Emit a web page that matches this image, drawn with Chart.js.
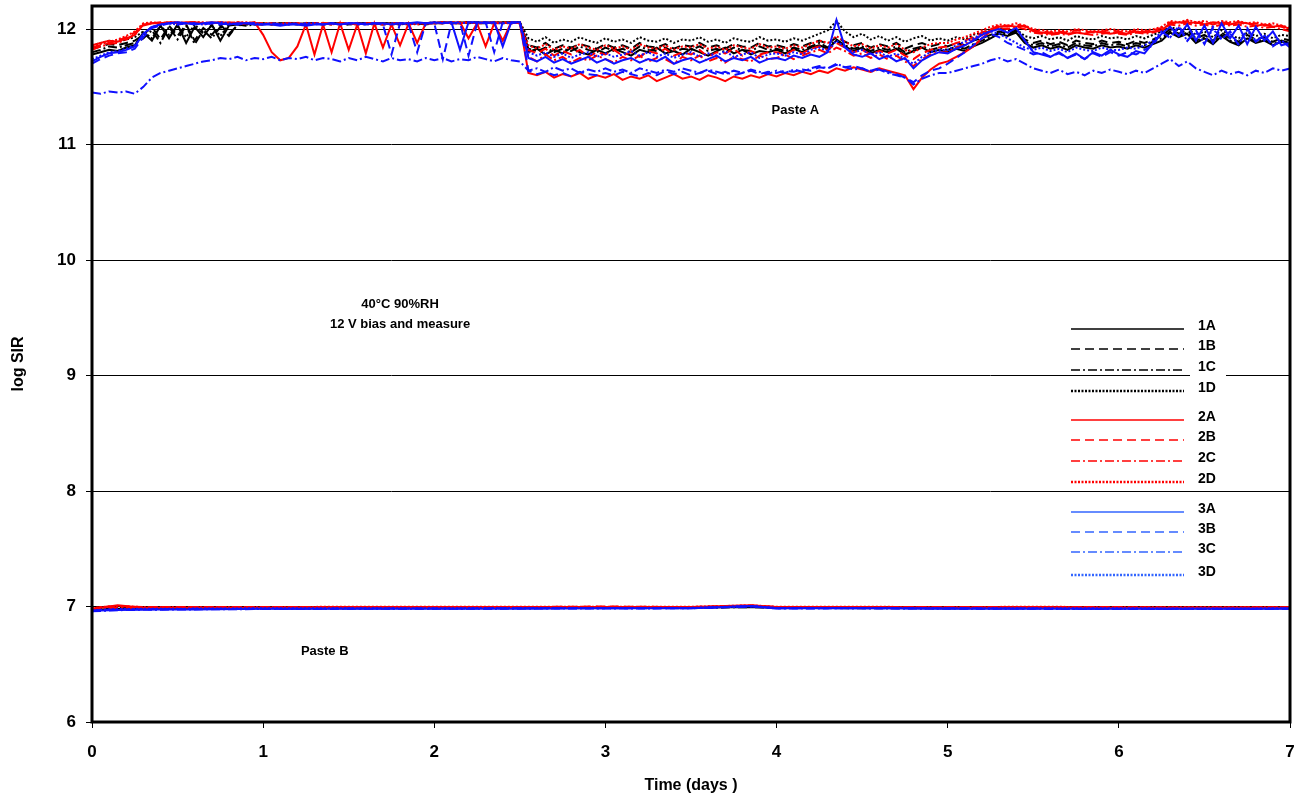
<!DOCTYPE html>
<html lang="en">
<head>
    <meta charset="UTF-8">
    <title>log SIR vs time</title>
    <script src="https://cdn.jsdelivr.net/npm/chart.js"></script>
    <style>
        body { margin: 0; background: #fff; }
        #sirChart { display: block; }
    </style>
</head>
<body>
<canvas id="sirChart" width="1304" height="801"></canvas>

<script>
    // sample times (days) for the Paste A curves, one row per day
    const days = [
        0.00, 0.05, 0.10, 0.15, 0.20, 0.25, 0.30, 0.35, 0.40, 0.45, 0.50, 0.55, 0.60, 0.65, 0.70, 0.75, 0.80, 0.85, 0.90, 0.95,
        1.00, 1.05, 1.10, 1.15, 1.20, 1.25, 1.30, 1.35, 1.40, 1.45, 1.50, 1.55, 1.60, 1.65, 1.70, 1.75, 1.80, 1.85, 1.90, 1.95,
        2.00, 2.05, 2.10, 2.15, 2.20, 2.25, 2.30, 2.35, 2.40, 2.45, 2.50, 2.55, 2.60, 2.65, 2.70, 2.75, 2.80, 2.85, 2.90, 2.95,
        3.00, 3.05, 3.10, 3.15, 3.20, 3.25, 3.30, 3.35, 3.40, 3.45, 3.50, 3.55, 3.60, 3.65, 3.70, 3.75, 3.80, 3.85, 3.90, 3.95,
        4.00, 4.05, 4.10, 4.15, 4.20, 4.25, 4.30, 4.35, 4.40, 4.45, 4.50, 4.55, 4.60, 4.65, 4.70, 4.75, 4.80, 4.85, 4.90, 4.95,
        5.00, 5.05, 5.10, 5.15, 5.20, 5.25, 5.30, 5.35, 5.40, 5.45, 5.50, 5.55, 5.60, 5.65, 5.70, 5.75, 5.80, 5.85, 5.90, 5.95,
        6.00, 6.05, 6.10, 6.15, 6.20, 6.25, 6.30, 6.35, 6.40, 6.45, 6.50, 6.55, 6.60, 6.65, 6.70, 6.75, 6.80, 6.85, 6.90, 6.95,
        7.00];

    // Paste A, log SIR
    const a1A = [
        11.78, 11.80, 11.82, 11.81, 11.84, 11.86, 11.97, 11.90, 12.03, 11.92, 12.04, 11.88, 12.02, 11.93, 12.04, 11.90, 12.03, 12.04, 12.05, 12.04,
        12.05, 12.04, 12.05, 12.05, 12.04, 12.05, 12.05, 12.04, 12.05, 12.05, 12.04, 12.05, 12.05, 12.04, 12.05, 12.05, 12.05, 12.04, 12.05, 12.05,
        12.05, 12.06, 12.05, 12.05, 12.06, 12.05, 12.06, 12.05, 12.06, 12.06, 12.06, 11.80, 11.83, 11.78, 11.82, 11.79, 11.84, 11.80, 11.78, 11.82,
        11.79, 11.83, 11.80, 11.77, 11.82, 11.80, 11.84, 11.79, 11.81, 11.78, 11.83, 11.80, 11.77, 11.81, 11.84, 11.79, 11.82, 11.78, 11.81, 11.80,
        11.82, 11.79, 11.83, 11.80, 11.84, 11.86, 11.83, 11.90, 11.85, 11.81, 11.84, 11.79, 11.82, 11.80, 11.83, 11.78, 11.81, 11.84, 11.80, 11.82,
        11.80, 11.83, 11.81, 11.85, 11.88, 11.92, 11.96, 11.94, 11.97, 11.88, 11.84, 11.86, 11.83, 11.85, 11.82, 11.86, 11.84, 11.83, 11.86, 11.84,
        11.85, 11.83, 11.86, 11.84, 11.87, 11.90, 11.97, 11.93, 11.96, 11.88, 11.92, 11.87, 11.94, 11.89, 11.86, 11.92, 11.88, 11.90, 11.86, 11.89,
        11.87];
    const a1B = [
        11.83, 11.85, 11.87, 11.86, 11.88, 11.90, 11.95, 12.02, 11.91, 12.03, 11.94, 12.04, 11.90, 12.01, 11.95, 12.04, 11.96, 12.03, 12.04, 12.05,
        12.04, 12.05, 12.05, 12.04, 12.05, 12.04, 12.05, 12.05, 12.04, 12.05, 12.05, 12.04, 12.05, 12.05, 12.04, 12.05, 12.04, 12.05, 12.05, 12.04,
        12.05, 12.05, 12.06, 12.05, 12.06, 12.05, 12.05, 12.06, 12.05, 12.06, 12.05, 11.86, 11.84, 11.88, 11.83, 11.86, 11.84, 11.87, 11.85, 11.83,
        11.87, 11.84, 11.86, 11.83, 11.88, 11.85, 11.84, 11.87, 11.83, 11.86, 11.85, 11.88, 11.84, 11.86, 11.83, 11.87, 11.85, 11.84, 11.88, 11.85,
        11.86, 11.84, 11.87, 11.85, 11.88, 11.90, 11.87, 11.93, 11.89, 11.86, 11.88, 11.84, 11.87, 11.85, 11.88, 11.83, 11.86, 11.88, 11.85, 11.87,
        11.85, 11.88, 11.86, 11.90, 11.92, 11.95, 11.98, 11.96, 11.99, 11.91, 11.88, 11.90, 11.87, 11.89, 11.86, 11.90, 11.88, 11.87, 11.90, 11.88,
        11.89, 11.87, 11.90, 11.88, 11.91, 11.94, 12.00, 11.96, 11.99, 11.92, 11.95, 11.90, 11.97, 11.92, 11.89, 11.95, 11.91, 11.93, 11.89, 11.92,
        11.90];
    const a1C = [
        11.80, 11.82, 11.85, 11.84, 11.86, 11.88, 11.92, 11.99, 11.88, 12.02, 11.91, 12.03, 11.87, 11.99, 11.92, 12.02, 11.94, 12.04, 12.03, 12.04,
        12.04, 12.05, 12.04, 12.05, 12.05, 12.04, 12.05, 12.04, 12.05, 12.05, 12.04, 12.05, 12.04, 12.05, 12.05, 12.04, 12.05, 12.05, 12.04, 12.05,
        12.05, 12.06, 12.05, 12.06, 12.05, 12.06, 12.05, 12.05, 12.06, 12.05, 12.06, 11.83, 11.81, 11.84, 11.80, 11.83, 11.81, 11.85, 11.82, 11.80,
        11.84, 11.81, 11.83, 11.80, 11.85, 11.82, 11.81, 11.84, 11.80, 11.83, 11.82, 11.85, 11.81, 11.83, 11.80, 11.84, 11.82, 11.81, 11.85, 11.82,
        11.83, 11.81, 11.84, 11.82, 11.85, 11.88, 11.84, 11.91, 11.86, 11.83, 11.85, 11.81, 11.84, 11.82, 11.85, 11.80, 11.83, 11.85, 11.82, 11.84,
        11.82, 11.85, 11.83, 11.87, 11.90, 11.93, 11.97, 11.95, 11.98, 11.89, 11.86, 11.88, 11.85, 11.87, 11.84, 11.88, 11.86, 11.85, 11.88, 11.86,
        11.87, 11.85, 11.88, 11.86, 11.89, 11.92, 11.98, 11.94, 11.97, 11.90, 11.93, 11.88, 11.95, 11.90, 11.87, 11.93, 11.89, 11.91, 11.87, 11.90,
        11.88];
    const a1D = [
        11.86, 11.88, 11.90, 11.89, 11.91, 11.93, 11.98, 11.92, 12.03, 11.95, 12.02, 11.93, 12.04, 11.96, 12.03, 11.94, 12.04, 12.05, 12.04, 12.05,
        12.05, 12.04, 12.05, 12.05, 12.04, 12.05, 12.05, 12.04, 12.05, 12.05, 12.04, 12.05, 12.05, 12.04, 12.05, 12.05, 12.04, 12.05, 12.05, 12.05,
        12.06, 12.05, 12.06, 12.05, 12.06, 12.06, 12.05, 12.06, 12.05, 12.06, 12.06, 11.92, 11.89, 11.93, 11.88, 11.91, 11.89, 11.93, 11.90, 11.88,
        11.92, 11.89, 11.91, 11.88, 11.93, 11.90, 11.89, 11.92, 11.88, 11.91, 11.90, 11.93, 11.89, 11.91, 11.88, 11.92, 11.90, 11.89, 11.93, 11.90,
        11.91, 11.89, 11.92, 11.90, 11.93, 11.96, 11.99, 12.07, 11.98, 11.93, 11.96, 11.91, 11.94, 11.90, 11.93, 11.89, 11.92, 11.94, 11.90, 11.92,
        11.90, 11.93, 11.91, 11.95, 11.97, 11.99, 12.01, 11.99, 12.00, 11.94, 11.92, 11.94, 11.91, 11.93, 11.90, 11.94, 11.92, 11.91, 11.94, 11.92,
        11.93, 11.91, 11.94, 11.92, 11.95, 11.98, 12.02, 11.99, 12.01, 11.95, 11.98, 11.93, 11.99, 11.95, 11.92, 11.97, 11.94, 11.96, 11.92, 11.95,
        11.94];
    const a2A = [
        11.86, 11.88, 11.90, 11.89, 11.92, 11.95, 12.04, 12.05, 12.05, 12.06, 12.05, 12.06, 12.06, 12.05, 12.06, 12.05, 12.06, 12.05, 12.05, 12.06,
        11.95, 11.80, 11.73, 11.75, 11.85, 12.04, 11.78, 12.04, 11.80, 12.05, 11.82, 12.04, 11.79, 12.05, 11.84, 12.04, 11.86, 12.05, 11.88, 12.05,
        12.05, 12.06, 12.05, 12.06, 11.92, 12.05, 11.85, 12.05, 11.90, 12.06, 12.05, 11.62, 11.60, 11.63, 11.58, 11.61, 11.59, 11.62, 11.57, 11.60,
        11.58, 11.61, 11.56, 11.59, 11.57, 11.60, 11.55, 11.58, 11.61, 11.57, 11.59, 11.56, 11.60, 11.58, 11.55, 11.59, 11.57, 11.60, 11.58, 11.61,
        11.59, 11.62, 11.60, 11.63, 11.61, 11.64, 11.62, 11.66, 11.64, 11.67, 11.65, 11.63, 11.66, 11.64, 11.62, 11.60, 11.48, 11.58, 11.65, 11.70,
        11.72, 11.76, 11.80, 11.85, 11.92, 11.98, 12.02, 12.03, 12.02, 12.03, 11.98, 11.97, 11.96, 11.97, 11.96, 11.97, 11.96, 11.98, 11.97, 11.96,
        11.97, 11.96, 11.98, 11.97, 11.98, 11.99, 12.05, 12.06, 12.05, 12.06, 12.04, 12.06, 12.05, 12.04, 12.06, 12.05, 12.03, 12.04, 12.02, 12.03,
        12.00];
    const a2B = [
        11.84, 11.86, 11.88, 11.90, 11.93, 11.97, 12.03, 12.05, 12.05, 12.06, 12.05, 12.05, 12.06, 12.05, 12.05, 12.06, 12.05, 12.04, 12.05, 12.05,
        12.04, 12.05, 12.04, 12.05, 12.05, 12.04, 12.05, 12.05, 12.04, 12.05, 12.05, 12.04, 12.05, 12.05, 12.04, 12.05, 12.05, 12.04, 12.05, 12.05,
        12.05, 12.06, 12.05, 12.05, 12.06, 12.05, 12.06, 12.05, 12.05, 12.06, 12.05, 11.82, 11.79, 11.83, 11.77, 11.81, 11.78, 11.82, 11.76, 11.80,
        11.78, 11.82, 11.77, 11.80, 11.76, 11.81, 11.79, 11.83, 11.77, 11.80, 11.78, 11.82, 11.76, 11.80, 11.79, 11.83, 11.77, 11.81, 11.78, 11.80,
        11.80, 11.78, 11.82, 11.79, 11.83, 11.85, 11.82, 11.88, 11.84, 11.80, 11.82, 11.78, 11.81, 11.79, 11.82, 11.77, 11.74, 11.79, 11.82, 11.84,
        11.85, 11.88, 11.90, 11.93, 11.97, 12.00, 12.03, 12.02, 12.04, 12.02, 11.99, 11.98, 11.97, 11.98, 11.97, 11.99, 11.98, 11.97, 11.98, 11.99,
        11.98, 11.97, 11.99, 11.98, 11.99, 12.01, 12.06, 12.05, 12.07, 12.05, 12.06, 12.04, 12.06, 12.05, 12.06, 12.04, 12.05, 12.03, 12.04, 12.02,
        12.00];
    const a2C = [
        11.82, 11.85, 11.87, 11.88, 11.91, 11.95, 12.04, 12.05, 12.06, 12.05, 12.06, 12.05, 12.06, 12.05, 12.05, 12.06, 12.05, 12.06, 12.05, 12.05,
        12.05, 12.04, 12.05, 12.05, 12.04, 12.05, 12.04, 12.05, 12.05, 12.04, 12.05, 12.05, 12.04, 12.05, 12.05, 12.04, 12.05, 12.05, 12.04, 12.05,
        12.05, 12.05, 12.06, 12.05, 12.06, 12.05, 12.05, 12.06, 12.05, 12.05, 12.06, 11.76, 11.72, 11.78, 11.73, 11.76, 11.71, 11.75, 11.73, 11.77,
        11.74, 11.71, 11.76, 11.73, 11.77, 11.72, 11.75, 11.74, 11.70, 11.76, 11.73, 11.77, 11.72, 11.75, 11.71, 11.76, 11.74, 11.72, 11.77, 11.74,
        11.75, 11.78, 11.74, 11.77, 11.80, 11.82, 11.79, 11.84, 11.81, 11.77, 11.79, 11.75, 11.78, 11.74, 11.77, 11.72, 11.68, 11.74, 11.78, 11.80,
        11.80, 11.84, 11.87, 11.91, 11.95, 11.99, 12.01, 12.00, 12.02, 12.00, 11.97, 11.96, 11.95, 11.96, 11.95, 11.97, 11.96, 11.95, 11.96, 11.97,
        11.96, 11.95, 11.97, 11.96, 11.97, 11.99, 12.04, 12.03, 12.05, 12.03, 12.04, 12.02, 12.04, 12.03, 12.04, 12.02, 12.03, 12.01, 12.02, 12.00,
        11.98];
    const a2D = [
        11.85, 11.87, 11.89, 11.91, 11.94, 11.98, 12.05, 12.06, 12.05, 12.06, 12.06, 12.05, 12.06, 12.06, 12.05, 12.06, 12.05, 12.06, 12.06, 12.05,
        12.05, 12.05, 12.04, 12.05, 12.05, 12.04, 12.05, 12.05, 12.04, 12.05, 12.05, 12.04, 12.05, 12.05, 12.04, 12.05, 12.05, 12.04, 12.05, 12.05,
        12.06, 12.05, 12.06, 12.05, 12.06, 12.05, 12.06, 12.05, 12.06, 12.05, 12.06, 11.86, 11.83, 11.87, 11.82, 11.85, 11.83, 11.87, 11.84, 11.82,
        11.86, 11.83, 11.85, 11.82, 11.87, 11.84, 11.83, 11.86, 11.82, 11.85, 11.84, 11.87, 11.83, 11.85, 11.82, 11.86, 11.84, 11.83, 11.87, 11.84,
        11.85, 11.83, 11.86, 11.84, 11.87, 11.90, 11.88, 11.94, 11.89, 11.85, 11.87, 11.83, 11.86, 11.84, 11.87, 11.82, 11.80, 11.84, 11.87, 11.88,
        11.88, 11.91, 11.93, 11.96, 11.99, 12.02, 12.04, 12.03, 12.05, 12.03, 12.00, 11.99, 11.98, 11.99, 11.98, 12.00, 11.99, 11.98, 11.99, 12.00,
        11.99, 11.98, 12.00, 11.99, 12.00, 12.02, 12.07, 12.06, 12.08, 12.06, 12.07, 12.05, 12.07, 12.06, 12.07, 12.05, 12.06, 12.04, 12.05, 12.03,
        12.01];
    const a3A = [
        11.72, 11.76, 11.79, 11.80, 11.82, 11.85, 11.96, 12.02, 12.04, 12.05, 12.06, 12.05, 12.04, 12.05, 12.06, 12.05, 12.04, 12.05, 12.05, 12.04,
        12.04, 12.04, 12.03, 12.04, 12.04, 12.03, 12.04, 12.04, 12.05, 12.04, 12.05, 12.05, 12.04, 12.05, 12.05, 12.04, 12.05, 12.05, 12.06, 12.05,
        12.06, 12.05, 12.06, 11.82, 12.06, 12.06, 12.05, 12.06, 11.85, 12.06, 12.06, 11.75, 11.72, 11.76, 11.71, 11.74, 11.70, 11.73, 11.76, 11.71,
        11.74, 11.70, 11.73, 11.75, 11.71, 11.74, 11.72, 11.76, 11.70, 11.73, 11.75, 11.71, 11.74, 11.77, 11.72, 11.75, 11.73, 11.76, 11.71, 11.74,
        11.75, 11.73, 11.77, 11.75, 11.78, 11.76, 11.80, 12.08, 11.84, 11.78, 11.76, 11.79, 11.74, 11.77, 11.72, 11.75, 11.66, 11.73, 11.77, 11.80,
        11.79, 11.83, 11.86, 11.90, 11.95, 11.98, 12.00, 11.97, 12.01, 11.90, 11.80, 11.78, 11.76, 11.80, 11.75, 11.79, 11.74, 11.80, 11.77, 11.82,
        11.78, 11.76, 11.81, 11.79, 11.88, 11.96, 12.02, 11.94, 12.04, 11.90, 12.03, 11.88, 12.05, 11.92, 12.03, 11.87, 12.02, 11.90, 11.98, 11.86,
        11.88];
    const a3B = [
        11.70, 11.74, 11.77, 11.79, 11.80, 11.83, 11.93, 12.01, 12.03, 12.05, 12.04, 12.05, 12.05, 12.04, 12.05, 12.04, 12.05, 12.04, 12.05, 12.05,
        12.04, 12.05, 12.04, 12.04, 12.05, 12.04, 12.05, 12.04, 12.05, 12.04, 12.05, 12.04, 12.05, 12.05, 12.04, 11.78, 12.05, 12.04, 11.80, 12.05,
        12.05, 11.74, 12.05, 12.06, 11.77, 12.05, 12.06, 11.80, 12.06, 12.05, 12.06, 11.64, 11.61, 11.63, 11.60, 11.62, 11.59, 11.63, 11.61, 11.60,
        11.62, 11.60, 11.63, 11.61, 11.59, 11.62, 11.60, 11.64, 11.61, 11.63, 11.60, 11.62, 11.64, 11.61, 11.63, 11.60, 11.62, 11.64, 11.61, 11.63,
        11.62, 11.64, 11.63, 11.65, 11.64, 11.67, 11.66, 11.69, 11.67, 11.68, 11.66, 11.64, 11.66, 11.63, 11.61, 11.58, 11.54, 11.60, 11.64, 11.66,
        11.70, 11.75, 11.80, 11.86, 11.92, 11.96, 11.93, 11.88, 11.85, 11.82, 11.78, 11.80, 11.76, 11.79, 11.75, 11.78, 11.74, 11.79, 11.76, 11.80,
        11.77, 11.80, 11.78, 11.82, 11.86, 11.98, 11.92, 12.03, 11.90, 11.99, 11.87, 12.02, 11.91, 11.98, 11.86, 12.01, 11.89, 11.95, 11.85, 11.90,
        11.84];
    const a3C = [
        11.45, 11.44, 11.46, 11.45, 11.46, 11.44, 11.50, 11.58, 11.62, 11.64, 11.66, 11.68, 11.70, 11.72, 11.73, 11.75, 11.74, 11.76, 11.73, 11.75,
        11.74, 11.76, 11.73, 11.75, 11.74, 11.76, 11.73, 11.75, 11.74, 11.72, 11.75, 11.73, 11.76, 11.74, 11.72, 11.75, 11.73, 11.74, 11.72, 11.75,
        11.73, 11.75, 11.72, 11.74, 11.73, 11.76, 11.74, 11.72, 11.75, 11.73, 11.72, 11.64, 11.66, 11.63, 11.67, 11.64, 11.66, 11.62, 11.65, 11.63,
        11.66, 11.63, 11.65, 11.62, 11.66, 11.64, 11.62, 11.65, 11.63, 11.66, 11.64, 11.62, 11.65, 11.63, 11.61, 11.64, 11.62, 11.65, 11.63, 11.61,
        11.64, 11.62, 11.65, 11.63, 11.66, 11.68, 11.66, 11.70, 11.67, 11.65, 11.66, 11.63, 11.65, 11.62, 11.60, 11.58, 11.52, 11.57, 11.60, 11.62,
        11.62, 11.64, 11.66, 11.68, 11.70, 11.73, 11.75, 11.72, 11.74, 11.70, 11.66, 11.64, 11.62, 11.65, 11.61, 11.63, 11.60, 11.64, 11.62, 11.65,
        11.63, 11.61, 11.64, 11.62, 11.66, 11.70, 11.74, 11.68, 11.72, 11.66, 11.63, 11.60, 11.64, 11.61, 11.63, 11.60, 11.64, 11.62, 11.66, 11.64,
        11.66];
    const a3D = [
        11.74, 11.77, 11.80, 11.81, 11.83, 11.86, 11.95, 12.02, 12.04, 12.05, 12.04, 12.05, 12.05, 12.04, 12.05, 12.06, 12.05, 12.04, 12.05, 12.05,
        12.04, 12.05, 12.04, 12.05, 12.04, 12.05, 12.05, 12.04, 12.05, 12.04, 12.05, 12.05, 12.04, 12.05, 12.04, 12.05, 12.05, 12.04, 12.05, 12.05,
        12.05, 12.06, 12.05, 12.05, 12.06, 12.05, 12.06, 12.05, 12.05, 12.06, 12.06, 11.80, 11.77, 11.80, 11.76, 11.79, 11.75, 11.78, 11.80, 11.76,
        11.79, 11.76, 11.78, 11.81, 11.77, 11.80, 11.76, 11.79, 11.75, 11.78, 11.80, 11.76, 11.79, 11.77, 11.81, 11.76, 11.78, 11.80, 11.75, 11.78,
        11.79, 11.77, 11.80, 11.78, 11.82, 11.84, 11.81, 11.90, 11.84, 11.80, 11.82, 11.78, 11.80, 11.76, 11.79, 11.74, 11.70, 11.76, 11.80, 11.82,
        11.82, 11.86, 11.89, 11.92, 11.96, 11.98, 11.96, 11.92, 11.88, 11.84, 11.82, 11.84, 11.81, 11.83, 11.80, 11.84, 11.82, 11.81, 11.84, 11.82,
        11.82, 11.84, 11.83, 11.86, 11.90, 11.98, 11.93, 12.01, 11.90, 11.97, 11.88, 12.00, 11.92, 11.96, 11.87, 11.99, 11.90, 11.94, 11.86, 11.90,
        11.85];

    // sample times (days) for the Paste B curves
    const daysB = [0, 0.05, 0.15, 0.3, 0.6, 1, 1.5, 2, 2.5, 3, 3.5, 3.85, 4, 4.5, 5, 5.5, 6, 6.5, 7];

    // Paste B, log SIR
    const b1A = [6.970, 6.975, 6.980, 6.980, 6.985, 6.985, 6.985, 6.990, 6.990, 6.990, 6.990, 6.995, 6.990, 6.990, 6.985, 6.990, 6.985, 6.985, 6.985];
    const b1B = [6.975, 6.980, 6.985, 6.985, 6.985, 6.990, 6.990, 6.990, 6.990, 6.990, 6.995, 7.000, 6.990, 6.990, 6.990, 6.990, 6.990, 6.985, 6.990];
    const b1C = [6.965, 6.970, 6.975, 6.980, 6.980, 6.985, 6.985, 6.985, 6.985, 6.990, 6.990, 6.995, 6.990, 6.985, 6.985, 6.985, 6.985, 6.985, 6.985];
    const b1D = [6.980, 6.985, 6.990, 6.990, 6.990, 6.990, 6.995, 6.995, 6.995, 6.995, 6.995, 7.000, 6.995, 6.995, 6.995, 6.995, 6.990, 6.990, 6.990];
    const b2A = [6.975, 6.990, 7.010, 6.990, 6.990, 6.990, 6.995, 6.995, 6.995, 6.995, 6.995, 7.010, 6.995, 6.995, 6.990, 6.995, 6.990, 6.990, 6.990];
    const b2B = [6.980, 6.995, 7.005, 6.995, 6.995, 6.995, 6.995, 6.995, 6.995, 7.000, 6.995, 7.008, 6.995, 6.995, 6.995, 6.995, 6.995, 6.990, 6.995];
    const b2C = [6.970, 6.980, 6.990, 6.985, 6.990, 6.990, 6.990, 6.990, 6.990, 6.990, 6.990, 7.005, 6.990, 6.990, 6.990, 6.990, 6.985, 6.985, 6.990];
    const b2D = [6.985, 6.995, 7.005, 6.995, 6.995, 6.995, 6.998, 6.998, 6.998, 6.998, 6.998, 7.010, 6.998, 6.998, 6.995, 6.998, 6.995, 6.995, 6.995];
    const b3A = [6.960, 6.965, 6.970, 6.975, 6.975, 6.980, 6.980, 6.980, 6.980, 6.985, 6.985, 7.005, 6.985, 6.985, 6.980, 6.980, 6.980, 6.980, 6.980];
    const b3B = [6.965, 6.970, 6.975, 6.975, 6.980, 6.980, 6.982, 6.982, 6.985, 6.985, 6.985, 7.002, 6.985, 6.985, 6.985, 6.982, 6.980, 6.980, 6.982];
    const b3C = [6.960, 6.962, 6.968, 6.972, 6.975, 6.978, 6.980, 6.980, 6.982, 6.982, 6.985, 7.000, 6.982, 6.985, 6.982, 6.980, 6.978, 6.978, 6.980];
    const b3D = [6.968, 6.972, 6.978, 6.980, 6.982, 6.985, 6.985, 6.985, 6.988, 6.988, 6.988, 7.005, 6.988, 6.988, 6.985, 6.985, 6.985, 6.982, 6.985];

    const xTicks = [0, 1, 2, 3, 4, 5, 6, 7];
    const yTicks = [6, 7, 8, 9, 10, 11, 12];
    const seriesNames = ['1A', '1B', '1C', '1D', '2A', '2B', '2C', '2D', '3A', '3B', '3C', '3D'];
    const pasteA = [a1A, a1B, a1C, a1D, a2A, a2B, a2C, a2D, a3A, a3B, a3C, a3D];
    const pasteB = [b1A, b1B, b1C, b1D, b2A, b2B, b2C, b2D, b3A, b3B, b3C, b3D];

    const FONT = '"Liberation Sans", Arial, sans-serif';
    const colors = { '1': '#000000', '2': '#ff0000', '3': '#1010ff' };
    const dashes = { 'A': [], 'B': [9, 5], 'C': [9, 3, 2, 3], 'D': [2, 2] };
    const drawOrder = { '1': 3, '2': 2, '3': 1 };

    function makeSet(name, xs, ys) {
        return {
            label: name,
            data: ys.map((y, i) => ({ x: xs[i], y: y })),
            borderColor: colors[name[0]],
            borderDash: dashes[name[1]],
            borderWidth: 2,
            pointRadius: 0,
            tension: 0,
            fill: false,
            order: drawOrder[name[0]]
        };
    }

    const datasets = [];
    seriesNames.forEach((n, i) => datasets.push(makeSet(n, days, pasteA[i])));
    seriesNames.forEach((n, i) => datasets.push(makeSet(n, daysB, pasteB[i])));

    // text notes and the hand-made legend
    const notesPlugin = {
        id: 'notes',
        afterDatasetsDraw(chart) {
            const ctx = chart.ctx;
            const xs = chart.scales.x, ys = chart.scales.y;
            const area = chart.chartArea;
            ctx.save();
            ctx.fillStyle = '#000';
            ctx.textAlign = 'center';
            ctx.textBaseline = 'middle';
            ctx.font = 'bold 13px ' + FONT;
            ctx.fillText('Paste A', xs.getPixelForValue(4.11), ys.getPixelForValue(11.30));
            ctx.fillText('40°C 90%RH', xs.getPixelForValue(1.80), ys.getPixelForValue(9.62));
            ctx.fillText('12 V bias and measure', xs.getPixelForValue(1.80), ys.getPixelForValue(9.44));
            ctx.fillText('Paste B', xs.getPixelForValue(1.36), ys.getPixelForValue(6.61));

            // legend
            const rows = [329, 349, 370, 391, 420, 440, 461, 482, 512, 532, 552, 575];
            const sx0 = area.right - 219, sx1 = area.right - 106;
            seriesNames.forEach((n, i) => {
                const y = rows[i];
                ctx.fillStyle = '#fff';
                ctx.fillRect(area.right - 100, y - 11, 36, 18);
                ctx.strokeStyle = n[0] === '3' ? '#3366ff' : colors[n[0]];
                ctx.lineWidth = n[1] === 'D' ? 2.5 : 1.3;
                ctx.setLineDash(n[1] === 'D' ? [2, 1.5] : dashes[n[1]]);
                ctx.beginPath();
                ctx.moveTo(sx0, y);
                ctx.lineTo(sx1, y);
                ctx.stroke();
                ctx.setLineDash([]);
                ctx.fillStyle = '#000';
                ctx.textAlign = 'left';
                ctx.font = 'bold 14px ' + FONT;
                ctx.fillText(n, area.right - 92, y - 3);
            });
            ctx.restore();
        },
        afterDraw(chart) {
            const ctx = chart.ctx;
            const a = chart.chartArea;
            ctx.save();
            ctx.strokeStyle = '#000';
            ctx.lineWidth = 3;
            ctx.strokeRect(a.left, a.top, a.right - a.left, a.bottom - a.top);
            ctx.restore();
        }
    };

    new Chart(document.getElementById('sirChart'), {
        type: 'line',
        data: { datasets: datasets },
        options: {
            responsive: false,
            animation: false,
            events: [],
            layout: { padding: { left: 0, right: 14, top: 6, bottom: 0 } },
            plugins: {
                legend: { display: false },
                tooltip: { enabled: false }
            },
            scales: {
                x: {
                    type: 'linear',
                    min: 0,
                    max: 7,
                    afterBuildTicks: s => { s.ticks = xTicks.map(v => ({ value: v })); },
                    afterFit: s => { s.height = 79; s.paddingLeft = 0; s.paddingRight = 0; },
                    grid: { drawOnChartArea: false, color: '#000', tickLength: 6, lineWidth: 1 },
                    border: { display: false },
                    ticks: { color: '#000', font: { family: FONT, size: 17, weight: 'bold' }, padding: 14, maxRotation: 0 },
                    title: { display: true, text: 'Time (days )', color: '#000', font: { family: FONT, size: 16, weight: 'bold' }, padding: { top: 0, bottom: 6 } }
                },
                y: {
                    type: 'linear',
                    min: 6,
                    max: 12.2,
                    afterBuildTicks: s => { s.ticks = yTicks.map(v => ({ value: v })); },
                    afterFit: s => { s.width = 92; s.paddingTop = 0; s.paddingBottom = 0; },
                    grid: { color: '#000', tickLength: 6, lineWidth: 1 },
                    border: { display: false },
                    ticks: { color: '#000', font: { family: FONT, size: 17, weight: 'bold' }, padding: 10 },
                    title: { display: true, text: 'log SIR', color: '#000', font: { family: FONT, size: 16, weight: 'bold' }, padding: { top: 9, bottom: 0 } }
                }
            }
        },
        plugins: [notesPlugin]
    });
</script>
</body>
</html>
